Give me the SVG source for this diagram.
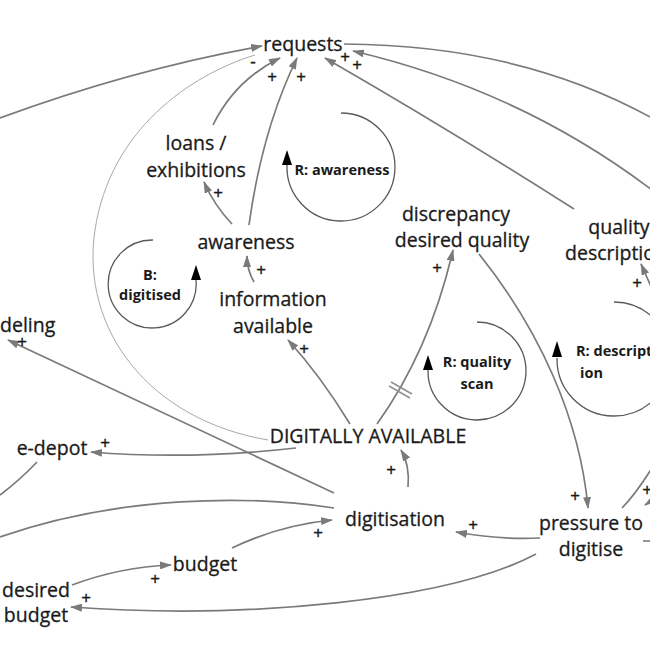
<svg xmlns="http://www.w3.org/2000/svg" width="650" height="650" viewBox="0 0 650 650">
<style>
.n{font-family:"Open Sans","Liberation Sans",sans-serif;font-size:19.5px;fill:#1a1a1a;stroke:#1a1a1a;stroke-width:0.3;text-anchor:middle}
.l{font-family:"Open Sans","Liberation Sans",sans-serif;font-size:14.5px;font-weight:bold;fill:#1a1a1a;text-anchor:middle}
.s{font-family:"Open Sans","Liberation Sans",sans-serif;font-size:17px;fill:#1a1a1a;stroke:#1a1a1a;stroke-width:0.4;text-anchor:middle}
.c{fill:none;stroke:#7a7a7a;stroke-width:1.7}
.t{fill:none;stroke:#a8a8a8;stroke-width:1}
.lp{fill:none;stroke:#5a5a5a;stroke-width:1.3}
</style>
<defs>
<marker id="a" viewBox="0 0 12 8" refX="11" refY="4" markerWidth="12" markerHeight="8" markerUnits="userSpaceOnUse" orient="auto"><path d="M0,0 L12,4 L0,8 Z" fill="#7a7a7a"/></marker>
</defs>
<rect width="650" height="650" fill="#ffffff"/>
<g id="connectors">
<path class="t" d="M268,440 C150,420 80,330 95,230 C110,130 190,75 255,55"/>
<path class="c" d="M0,118 Q130,70 262,46" marker-end="url(#a)"/>
<path class="c" d="M213,125 Q235,80 280,58" marker-end="url(#a)"/>
<path class="c" d="M249,225 Q262,130 297,58" marker-end="url(#a)"/>
<path class="c" d="M232,224 Q214,205 204,182" marker-end="url(#a)"/>
<path class="c" d="M574,209 Q450,130 325,58" marker-end="url(#a)"/>
<path class="c" d="M652,190 Q520,90 353,51" marker-end="url(#a)"/>
<path class="c" d="M344,44 Q520,45 652,118"/>
<path class="c" d="M254,282 Q247,270 247,256" marker-end="url(#a)"/>
<path class="c" d="M350,424 Q320,375 288,340" marker-end="url(#a)"/>
<path class="c" d="M377,424 Q430,350 453,250" marker-end="url(#a)"/>
<path d="M391,382 L412,394 M389,386 L410,398" fill="none" stroke="#909090" stroke-width="1.6"/>
<path class="c" d="M296,448 Q190,460 91,452" marker-end="url(#a)"/>
<path class="c" d="M37,462 Q20,480 0,495"/>
<path class="c" d="M334,493 L8,340" marker-end="url(#a)"/>
<path class="c" d="M408,487 Q410,465 401,450" marker-end="url(#a)"/>
<path class="c" d="M334,508 C250,495 120,495 0,537"/>
<path class="c" d="M540,538 Q500,540 456,532" marker-end="url(#a)"/>
<path class="c" d="M536,554 C450,600 250,620 71,607" marker-end="url(#a)"/>
<path class="c" d="M72,585 Q120,567 171,565" marker-end="url(#a)"/>
<path class="c" d="M232,548 Q280,525 332,520" marker-end="url(#a)"/>
<path class="c" d="M479,254 C540,330 580,420 588,508" marker-end="url(#a)"/>
<path class="c" d="M622,508 Q635,495 652,468"/>
<path class="c" d="M655,295 Q648,280 641,264" marker-end="url(#a)"/>
<path class="c" d="M656,498 L645,505" marker-end="url(#a)"/>
<path d="M643,541 L650,541" stroke="#7a7a7a" stroke-width="1.6"/>
</g>
<g id="signs">
<text class="s" x="253" y="67">-</text>
<text class="s" x="272" y="83">+</text>
<text class="s" x="301" y="83">+</text>
<text class="s" x="345" y="63">+</text>
<text class="s" x="357" y="71">+</text>
<text class="s" x="218" y="199">+</text>
<text class="s" x="261" y="276">+</text>
<text class="s" x="304" y="355">+</text>
<text class="s" x="437" y="274">+</text>
<text class="s" x="105" y="449">+</text>
<text class="s" x="22" y="348">+</text>
<text class="s" x="391" y="476">+</text>
<text class="s" x="473" y="531">+</text>
<text class="s" x="575" y="502">+</text>
<text class="s" x="318" y="539">+</text>
<text class="s" x="155" y="585">+</text>
<text class="s" x="86" y="604">+</text>
<text class="s" x="637" y="289">+</text>
<text class="s" x="647" y="496">+</text>
</g>
<g id="requests"><text class="n" x="303" y="51">requests</text></g>
<g id="loans"><text class="n" x="196" y="150">loans /</text><text class="n" x="196" y="177">exhibitions</text></g>
<g id="awareness"><text class="n" x="246" y="249">awareness</text></g>
<g id="information"><text class="n" x="273" y="306">information</text><text class="n" x="273" y="333">available</text></g>
<g id="discrepancy"><text class="n" x="456" y="221">discrepancy</text><text class="n" x="462" y="247">desired quality</text></g>
<g id="quality"><text class="n" x="619" y="234">quality</text><text class="n" x="616" y="260">description</text></g>
<g id="modeling"><text class="n" x="0" y="332" style="text-anchor:start">deling</text></g>
<g id="edepot"><text class="n" x="52" y="455">e-depot</text></g>
<g id="digitallyavailable"><text class="n" x="368" y="443">DIGITALLY AVAILABLE</text></g>
<g id="digitisation"><text class="n" x="395" y="526">digitisation</text></g>
<g id="pressure"><text class="n" x="591" y="530">pressure to</text><text class="n" x="591" y="556">digitise</text></g>
<g id="budget"><text class="n" x="205" y="571">budget</text></g>
<g id="desiredbudget"><text class="n" x="36" y="597">desired</text><text class="n" x="36" y="622">budget</text></g>
<g id="loop-awareness">
<path class="lp" d="M341,113 A54,54 0 1 1 287,165"/>
<path d="M282,165 L287,150 L292,165 Z" fill="#000"/>
<text class="l" x="342" y="175">R: awareness</text>
</g>
<g id="loop-digitised">
<path class="lp" d="M153,240 A44,44 0 1 0 196,280"/>
<path d="M191,280 L196,265 L201,280 Z" fill="#000"/>
<text class="l" x="150" y="280">B:</text>
<text class="l" x="150" y="300">digitised</text>
</g>
<g id="loop-quality">
<path class="lp" d="M477,322 A49,49 0 1 1 428,370"/>
<path d="M423,370 L428,355 L433,370 Z" fill="#000"/>
<text class="l" x="477" y="367">R: quality</text>
<text class="l" x="477" y="389">scan</text>
</g>
<g id="loop-description">
<path class="lp" d="M614,302 A57,57 0 1 1 557,358"/>
<path d="M552,357 L557,341 L562,357 Z" fill="#000"/>
<text class="l" x="576" y="356" style="text-anchor:start">R: descript</text>
<text class="l" x="580" y="378" style="text-anchor:start">ion</text>
</g>
</svg>
